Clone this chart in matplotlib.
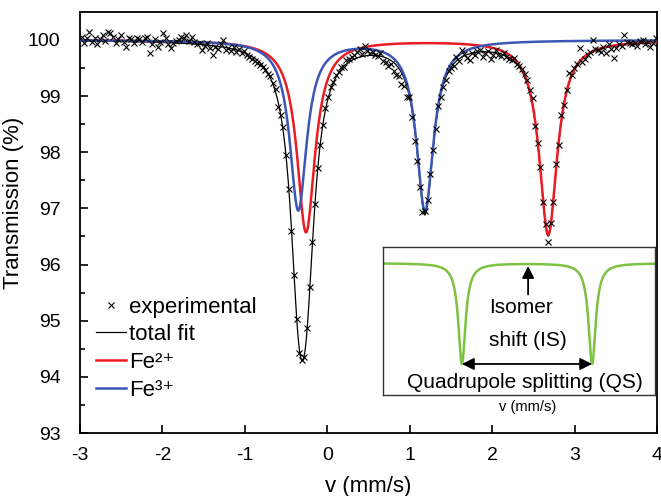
import numpy as np
import matplotlib
matplotlib.use("Agg")
import matplotlib.pyplot as plt

plt.rcParams['font.family'] = ['Liberation Sans', 'DejaVu Sans']
plt.rcParams['axes.unicode_minus'] = False

# fitted doublet lines: centre (mm/s), depth (%), half width (mm/s)
fe3_centers = [-0.352, 1.185]
fe3_depths = [3.02, 3.03]
fe3_hw = [0.125, 0.125]
fe2_centers = [-0.258, 2.68]
fe2_depths = [3.42, 3.46]
fe2_hw = [0.133, 0.133]

# measured spectrum: velocity channels (start, step) and transmission values
v_start = -2.98
v_step = 0.0318
exp_trans = [
    100.06, 99.95, 100.03, 100.15, 99.97, 100.04, 99.93, 100.02, 100.09, 99.98,
    100.15, 100.12, 100.06, 99.94, 100.01, 100.09, 99.96, 99.88, 100.03, 100.02,
    99.95, 100.04, 100.02, 99.97, 100.03, 100.05, 99.76, 99.92, 100.01, 99.88,
    99.97, 100.12, 100.03, 99.93, 99.85, 99.95, 99.99, 100.00, 100.05, 100.04,
    100.09, 99.98, 100.05, 99.97, 99.92, 99.95, 99.82, 99.90, 99.95, 99.85,
    99.73, 99.88, 99.84, 99.92, 100.00, 99.82, 99.86, 99.80, 99.87, 99.78,
    99.84, 99.76, 99.80, 99.73, 99.70, 99.66, 99.62, 99.59, 99.56, 99.52,
    99.47, 99.40, 99.35, 99.24, 99.12, 98.81, 98.67, 98.45, 97.95, 97.35,
    96.60, 95.82, 95.03, 94.42, 94.30, 94.36, 94.87, 95.60, 96.40, 97.08,
    97.72, 98.13, 98.48, 98.78, 98.99, 99.17, 99.26, 99.37, 99.43, 99.51,
    99.52, 99.64, 99.66, 99.70, 99.74, 99.78, 99.84, 99.75, 99.90, 99.80,
    99.76, 99.79, 99.74, 99.71, 99.76, 99.62, 99.60, 99.53, 99.57, 99.44,
    99.38, 99.36, 99.21, 99.18, 98.99, 98.98, 98.63, 98.20, 97.84, 97.38,
    96.93, 96.95, 97.15, 97.62, 98.04, 98.42, 98.82, 98.99, 99.16, 99.29,
    99.45, 99.50, 99.53, 99.70, 99.62, 99.82, 99.75, 99.68, 99.64, 99.76,
    99.74, 99.80, 99.83, 99.70, 99.76, 99.80, 99.67, 99.74, 99.82, 99.73,
    99.72, 99.76, 99.70, 99.66, 99.64, 99.68, 99.58, 99.53, 99.48, 99.40,
    99.29, 99.11, 98.97, 98.46, 98.17, 97.73, 97.12, 96.72, 96.41, 96.74,
    97.12, 97.80, 98.13, 98.66, 98.84, 99.11, 99.41, 99.38, 99.50, 99.58,
    99.86, 99.61, 99.67, 99.73, 99.78, 100.00, 99.84, 99.82, 99.79, 99.88,
    99.76, 99.92, 99.84, 99.68, 99.86, 99.93, 99.90, 100.09, 99.96, 99.95,
    99.92, 99.95, 99.90, 99.98, 100.00, 99.93, 99.97, 99.88, 99.94, 100.04,
]
exp_v = v_start + v_step * np.arange(len(exp_trans))

xticks = [-3, -2, -1, 0, 1, 2, 3, 4]
yticks = [93, 94, 95, 96, 97, 98, 99, 100]


def lor(x, c, d, h):
    return d / (1 + ((x - c) / h) ** 2)


xf = np.linspace(-3, 4, 1400)
fe3 = 100 - sum(lor(xf, c, d, h) for c, d, h in zip(fe3_centers, fe3_depths, fe3_hw))
fe2 = 100 - sum(lor(xf, c, d, h) for c, d, h in zip(fe2_centers, fe2_depths, fe2_hw))
tot = fe3 + fe2 - 100

fig = plt.figure(figsize=(6.61, 4.96), dpi=100)
ax = fig.add_axes([0.121, 0.127, 0.873, 0.849])
ax.plot(exp_v, exp_trans, ls='none', marker='x', ms=5, mew=0.8, color='black',
        label='experimental', zorder=4)
ax.plot(xf, tot, color='black', lw=0.9, label='total fit', zorder=2)
ax.plot(xf, fe2, color='#ec1c24', lw=1.8, label='Fe²⁺', zorder=3)
ax.plot(xf, fe3, color='#3b57b3', lw=1.8, label='Fe³⁺', zorder=3)
ax.set_xlim(-3, 4)
ax.set_ylim(93, 100.5)
ax.set_xticks(xticks)
ax.set_yticks(yticks)
ax.set_yticks(np.array(yticks[:-1]) + 0.5, minor=True)
ax.tick_params(direction='in', labelsize=14, length=6, width=1.2, pad=10)
ax.tick_params(axis='y', which='major', pad=14)
ax.tick_params(axis='y', which='minor', direction='in', length=3.5, width=1.2)
for s in ax.spines.values():
    s.set_linewidth(1.3)
ax.set_xlabel('v (mm/s)', fontsize=16)
ax.set_ylabel('Transmission (%)', fontsize=16)
ax.xaxis.set_label_coords(0.5, -0.102)
ax.yaxis.set_label_coords(-0.097, 0.546)
ax.legend(loc='upper left', bbox_to_anchor=(0.028, 0.324), borderaxespad=0, borderpad=0,
          frameon=False, fontsize=16, handlelength=1.35, handletextpad=0.15, labelspacing=0.3)

ins = ax.inset_axes([0.525, 0.09, 0.472, 0.352])
xi = np.linspace(0, 1, 600)
yi = 0.89 - lor(xi, 0.29, 0.68, 0.016) - lor(xi, 0.768, 0.68, 0.016)
ins.plot(xi, yi, color='#7dc242', lw=1.8)
ins.set_xlim(0, 1)
ins.set_ylim(0, 1)
ins.set_xticks([])
ins.set_yticks([])
for s in ins.spines.values():
    s.set_linewidth(1.0)
    s.set_color('#333333')
ins.annotate('', xy=(0.533, 0.89), xytext=(0.533, 0.66),
             arrowprops=dict(arrowstyle='-|>', color='black', lw=1.3, mutation_scale=18))
ins.annotate('', xy=(0.29, 0.21), xytext=(0.768, 0.21),
             arrowprops=dict(arrowstyle='<|-|>', color='black', lw=1.3, mutation_scale=18,
                             shrinkA=0, shrinkB=0))
ins.text(0.39, 0.59, 'Isomer', fontsize=15, ha='left', va='center')
ins.text(0.39, 0.37, 'shift (IS)', fontsize=15, ha='left', va='center')
ins.text(0.52, 0.088, 'Quadrupole splitting (QS)', fontsize=15, ha='center', va='center')
ins.text(0.53, -0.08, 'v (mm/s)', fontsize=10.5, ha='center', va='center')

fig.savefig('out.png', dpi=100)
